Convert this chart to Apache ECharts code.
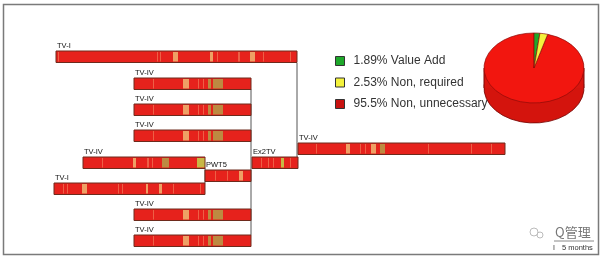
<!DOCTYPE html>
<html>
<head>
<meta charset="utf-8">
<script src="https://cdn.jsdelivr.net/npm/echarts@6/dist/echarts.min.js"></script>
<style>
  html, body { margin: 0; padding: 0; background: #fff; }
</style>
</head>
<body>
<div id="main" style="width: 603px;height:258px;"></div>
<script>
// process bars (x in timeline units, y = row top)
var barNames = ['TV-I', 'TV-IV', 'TV-IV', 'TV-IV', 'TV-IV', 'Ex2TV', 'TV-IV', 'PWT5', 'TV-I', 'TV-IV', 'TV-IV'];
var barStart = [56, 134, 134, 134, 298, 252, 83, 205, 54, 134, 134];
var barEnd = [297, 251, 251, 251, 505, 298, 205, 251, 205, 251, 251];
var barTop = [51, 78, 104, 130, 143, 157, 157, 170, 183, 209, 235];
var barStripeSet = ['tv1a', 'tv4', 'tv4', 'tv4', 'tv4r', 'ex2', 'tv4l', 'pwt', 'tv1b', 'tv4', 'tv4'];

// stripes: [offset from bar start, width, kind]
var stripesTv1a = [[2, 1, 't'], [101, 1, 't'], [104, 1, 't'], [117, 5, 'o'], [154, 3, 'o'], [161, 1, 't'], [182, 2, 't'], [194, 5, 'o'], [207, 1, 't'], [234, 1, 't']];
var stripesTv4 = [[19, 1, 't'], [49, 6, 'o'], [64, 1, 't'], [69, 1, 't'], [74, 3, 'k'], [79, 10, 'k']];
var stripesTv4r = [[18, 1, 't'], [48, 4, 'o'], [62, 1, 't'], [67, 1, 't'], [73, 5, 'o'], [82, 5, 'k'], [130, 1, 't'], [173, 1, 't'], [193, 1, 't']];
var stripesTv4l = [[19, 1, 't'], [50, 3, 'o'], [64, 2, 't'], [69, 1, 't'], [79, 7, 'k'], [114, 8, 'g']];
var stripesTv1b = [[9, 1, 't'], [13, 1, 't'], [28, 5, 'o'], [64, 1, 't'], [68, 1, 't'], [92, 2, 'o'], [105, 3, 'o'], [119, 1, 't'], [146, 1, 't']];
var stripesPwt = [[10, 1, 't'], [22, 1, 't'], [34, 4, 'o']];
var stripesEx2 = [[9, 1, 't'], [16, 1, 't'], [21, 1, 't'], [29, 3, 'g'], [38, 1, 't']];

// connector lines
var linkX = [297, 251, 205];
var linkFrom = [63, 89, 168];
var linkTo = [157, 235, 183];

// pie
var sliceNames = ['Value Add', 'Non, required', 'Non, unnecessary'];
var slicePct = [1.89, 2.53, 95.5];

var stripeSets = {
  tv1a: stripesTv1a, tv4: stripesTv4, tv4r: stripesTv4r, tv4l: stripesTv4l,
  tv1b: stripesTv1b, pwt: stripesPwt, ex2: stripesEx2
};
var stripeColors = { t: '#f07a58', o: '#eeae6e', k: '#b89646', g: '#c4c84a' };
var sliceColors = ['#1ea82a', '#f4f23c', '#f2160f'];
var legendColors = ['#1ea82a', '#f4f23c', '#c81210'];
var barH = 11.5;

var myChart = echarts.init(document.getElementById('main'));

function renderBar(params, api) {
  var i = params.dataIndex;
  var s = api.value(0), e = api.value(1), top = api.value(2);
  var p0 = api.coord([s, top]);
  var p1 = api.coord([e, top + barH]);
  var w = p1[0] - p0[0], h = p1[1] - p0[1];
  var children = [{
    type: 'rect',
    shape: { x: p0[0], y: p0[1], width: w, height: h },
    style: { fill: '#e6221c' }
  }];
  var set = stripeSets[barStripeSet[i]];
  set.forEach(function (st) {
    var a = api.coord([s + st[0], top]);
    var b = api.coord([s + st[0] + st[1], top]);
    children.push({
      type: 'rect',
      shape: { x: a[0], y: p0[1] + 1, width: Math.max(b[0] - a[0], 1), height: h - 2 },
      style: { fill: stripeColors[st[2]], opacity: st[2] === 't' ? 0.7 : 0.9 }
    });
  });
  children.push({
    type: 'rect',
    shape: { x: p0[0], y: p0[1], width: w, height: h },
    style: { fill: null, stroke: '#6e2a1c', lineWidth: 1 }
  });
  children.push({
    type: 'text',
    x: p0[0] + 1,
    y: p0[1] - 1.5,
    style: { text: barNames[i], fill: '#111', font: '7.5px "Liberation Sans"', verticalAlign: 'bottom' }
  });
  return { type: 'group', children: children };
}

function renderLink(params, api) {
  var a = api.coord([api.value(0), api.value(1)]);
  var b = api.coord([api.value(0), api.value(2)]);
  return {
    type: 'line',
    shape: { x1: a[0], y1: a[1], x2: b[0], y2: b[1] },
    style: { stroke: '#555', lineWidth: 1 }
  };
}

var pieCx = 534, pieCy = 68, pieR = 50, squash = 0.7, depth = 20;
var pctTotal = slicePct.reduce(function (a, b) { return a + b; }, 0);

function pieSeries(k) {
  var before = 0;
  for (var j = 0; j < k; j++) before += slicePct[j];
  return {
    type: 'custom',
    name: sliceNames[k],
    coordinateSystem: 'none',
    itemStyle: { color: legendColors[k] },
    data: [[slicePct[k]]],
    renderItem: function (params, api) {
      var a0 = -Math.PI / 2 + 2 * Math.PI * before / pctTotal;
      var a1 = a0 + 2 * Math.PI * api.value(0) / pctTotal;
      var children = [];
      if (k === 2) {
        // side of the pie
        children.push({
          type: 'sector', x: pieCx, y: pieCy + depth, scaleY: squash,
          shape: { cx: 0, cy: 0, r: pieR, r0: 0, startAngle: a0, endAngle: a1, clockwise: true },
          style: { fill: '#d4140d', stroke: '#7a0806', lineWidth: 1 }
        });
        children.push({
          type: 'rect',
          shape: { x: pieCx - pieR, y: pieCy, width: pieR * 2, height: depth },
          style: { fill: '#d8150e' }
        });
        children.push({
          type: 'line', shape: { x1: pieCx - pieR, y1: pieCy, x2: pieCx - pieR, y2: pieCy + depth },
          style: { stroke: '#7a0806', lineWidth: 1 }
        });
        children.push({
          type: 'line', shape: { x1: pieCx + pieR, y1: pieCy, x2: pieCx + pieR, y2: pieCy + depth },
          style: { stroke: '#7a0806', lineWidth: 1 }
        });
      }
      children.push({
        type: 'sector', x: pieCx, y: pieCy, scaleY: squash,
        shape: { cx: 0, cy: 0, r: pieR, r0: 0, startAngle: a0, endAngle: a1, clockwise: true },
        style: { fill: sliceColors[k], stroke: '#8a0a08', lineWidth: 0.8 }
      });
      return { type: 'group', children: children };
    }
  };
}

var option = {
  animation: false,
  grid: { left: 0, right: 0, top: 0, bottom: 0 },
  xAxis: { type: 'value', min: 0, max: 603, show: false },
  yAxis: { type: 'value', min: 0, max: 258, inverse: true, show: false },
  legend: {
    orient: 'vertical',
    left: 330,
    top: 50,
    itemWidth: 9,
    itemHeight: 9,
    itemGap: 9.5,
    icon: 'rect',
    selectedMode: false,
    data: sliceNames,
    itemStyle: { borderColor: '#333', borderWidth: 1 },
    textStyle: { fontSize: 12, color: '#333', fontFamily: 'Liberation Sans', padding: [0, 0, 0, 4] },
    formatter: function (name) {
      return slicePct[sliceNames.indexOf(name)] + '% ' + name;
    }
  },
  graphic: [
    { type: 'rect', shape: { x: 3.5, y: 4.5, width: 595, height: 250 }, style: { fill: null, stroke: '#7a7a7a', lineWidth: 1.5 }, z: 10 },
    { type: 'circle', shape: { cx: 534, cy: 232, r: 4 }, style: { fill: null, stroke: '#bbb', lineWidth: 1 } },
    { type: 'circle', shape: { cx: 540, cy: 235, r: 3 }, style: { fill: null, stroke: '#bbb', lineWidth: 1 } },
    { type: 'text', x: 555, y: 232, style: { text: 'Q管理', fill: '#777', font: '13px "Noto Sans CJK SC"', verticalAlign: 'middle' } },
    { type: 'line', shape: { x1: 554, y1: 241, x2: 594, y2: 241 }, style: { stroke: '#888', lineWidth: 1 } },
    { type: 'text', x: 553, y: 248, style: { text: 'I', fill: '#333', font: '7px "Liberation Sans"', verticalAlign: 'middle' } },
    { type: 'text', x: 562, y: 248, style: { text: '5 months', fill: '#333', font: '7.5px "Liberation Sans"', verticalAlign: 'middle' } }
  ],
  series: [
    {
      type: 'custom',
      name: 'links',
      renderItem: renderLink,
      data: linkX.map(function (x, i) { return [x, linkFrom[i], linkTo[i]]; })
    },
    {
      type: 'custom',
      name: 'bars',
      renderItem: renderBar,
      data: barStart.map(function (s, i) { return [s, barEnd[i], barTop[i]]; })
    },
    pieSeries(2),
    pieSeries(0),
    pieSeries(1)
  ]
};
myChart.setOption(option);
window.addEventListener('resize', function () {
  myChart.resize();
});
</script>
</body>
</html>
